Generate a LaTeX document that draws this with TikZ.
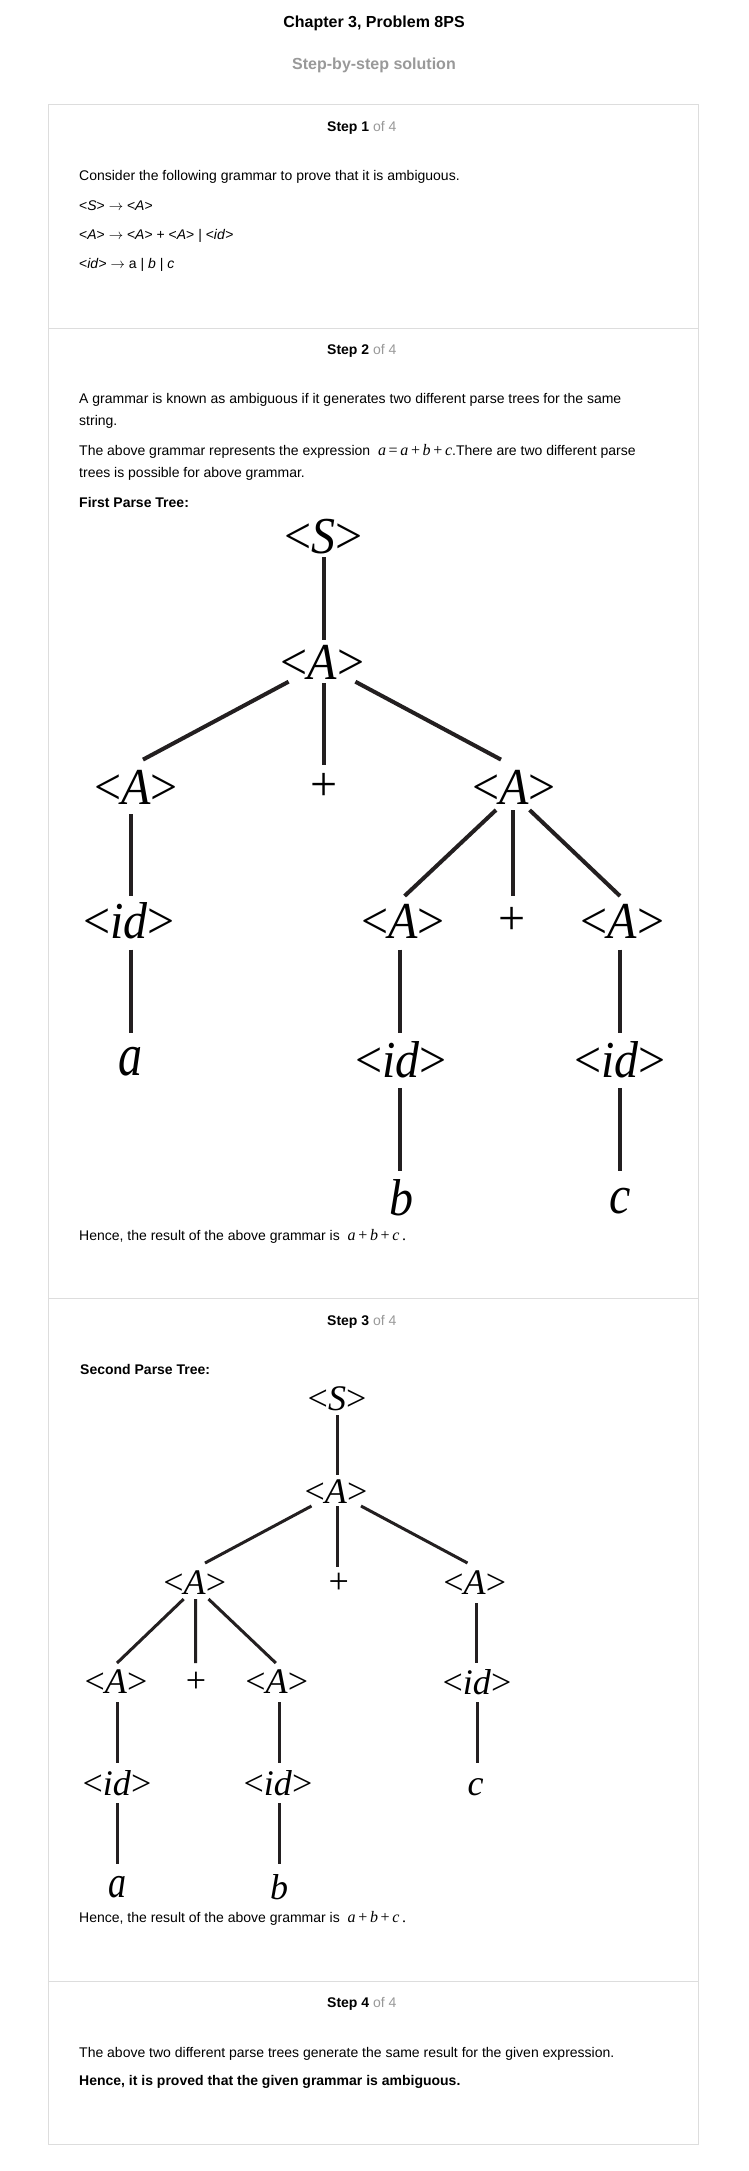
\documentclass[tikz,border=0pt]{standalone}
\usepackage{fontspec}
\setmainfont{Liberation Sans}
\newfontfamily\tms{Liberation Serif}
\usetikzlibrary{calc}
\definecolor{edge}{HTML}{231F20}
\definecolor{frame}{HTML}{DDDDDD}
\definecolor{greytxt}{HTML}{999999}
\newcommand{\fs}[1]{\fontsize{#1}{#1}\selectfont}
\newcommand{\mth}[1]{{\tms\fs{16}#1}}
\newcommand{\tallA}[1]{\scalebox{1}[1.08]{#1}}
\newcommand{\arr}{ $\rightarrow$ }
\tikzset{
  treeA/.style={font=\tms\fs{48}, inner sep=0pt},
  treeB/.style={font=\tms\fs{36}, inner sep=0pt},
  edgeA/.style={line width=4pt, color=edge},
  edgeB/.style={line width=3pt, color=edge},
  body/.style={anchor=base west, font=\fs{14}, inner sep=0pt},
  boldbody/.style={anchor=base west, font=\bfseries\fs{14}, inner sep=0pt},
  stephead/.style={anchor=base west, font=\fs{14}, inner sep=0pt},
  framebox/.style={draw=frame, line width=1pt},
}
\begin{document}
\begin{tikzpicture}[x=1pt,y=-1pt]
\path[fill=white] (0,0) rectangle (748,2171);
\useasboundingbox (0,0) rectangle (748,2171);

% header
\node[anchor=base, font=\bfseries\fs{16}, inner sep=0pt] (title) at (374,27) {Chapter 3, Problem 8PS};
\node[anchor=base, font=\bfseries\fs{16}, text=greytxt, inner sep=0pt] (sub) at (374,69) {Step-by-step solution};

% frame and separators
\draw[framebox] (48.7,104) rectangle (698.5,2144);
\draw[framebox] (48.7,328) -- (698.5,328);
\draw[framebox] (48.7,1298) -- (698.5,1298);
\draw[framebox] (48.7,1981) -- (698.5,1981);

% step 1
\node[stephead] (s1) at (327,131) {\textbf{Step 1} \textcolor{greytxt}{of 4}};
\node[body] (t11) at (79,180) {Consider the following grammar to prove that it is ambiguous.};
\node[body] (t12) at (79,210) {<\textit{S}>\arr<\textit{A}>};
\node[body] (t13) at (79,239) {<\textit{A}>\arr<\textit{A}> + <\textit{A}> | <\textit{id}>};
\node[body] (t14) at (79,268) {<\textit{id}>\arr a | \textit{b} | \textit{c}};

% step 2
\node[stephead] (s2) at (327,354) {\textbf{Step 2} \textcolor{greytxt}{of 4}};
\node[body] (t21) at (79,403) {A grammar is known as ambiguous if it generates two different parse trees for the same};
\node[body] (t22) at (79,425) {string.};
\node[body] (t23) at (79,455) {The above grammar represents the expression \ \mth{\textit{a}\,=\,\textit{a}\,+\,\textit{b}\,+\,\textit{c}}.There are two different parse};
\node[body] (t24) at (79,477) {trees is possible for above grammar.};
\node[boldbody] (t25) at (79,507) {First Parse Tree:};

% first parse tree
\node[treeA] (S)  at (323.5,537) {\tallA{<\textit{S}>}};
\node[treeA] (A0) at (322.5,662) {\tallA{<\textit{A}>}};
\node[treeA] (A1) at (136,787) {\tallA{<\textit{A}>}};
\node[treeA] (P1) at (324.4,787) {+};
\node[treeA] (A2) at (514,787) {\tallA{<\textit{A}>}};
\node[treeA] (I1) at (129,921) {\tallA{<\textit{id}>}};
\node[treeA] (A3) at (403,921) {\tallA{<\textit{A}>}};
\node[treeA] (P2) at (512,921) {+};
\node[treeA] (A4) at (622.6,921) {\tallA{<\textit{A}>}};
\node[treeA] (La) at (130,1062) {\scalebox{1}[1.25]{\textit{a}}};
\node[treeA] (I2) at (401,1060) {\tallA{<\textit{id}>}};
\node[treeA] (I3) at (620,1060) {\tallA{<\textit{id}>}};
\node[treeA] (Lb) at (401,1198) {\tallA{\textit{b}}};
\node[treeA] (Lc) at (620,1201) {\scalebox{1}[1.12]{\textit{c}}};

\draw[edgeA] ($(S)+(0,20)$) -- ($(A0)+(1,-22)$);
\draw[edgeA] ($(A0)+(-33.9,19.7)$) -- ($(A1)+(7,-27.4)$);
\draw[edgeA] ($(A0)+(1,21)$) -- ($(P1)+(-0.9,-22.4)$);
\draw[edgeA] ($(A0)+(32.9,19.7)$) -- ($(A2)+(-13,-27.4)$);
\draw[edgeA] ($(A1)+(-5,27)$) -- ($(I1)+(2,-25)$);
\draw[edgeA] ($(I1)+(2,28.6)$) -- ($(La)+(1,-29.1)$);
\draw[edgeA] ($(A2)+(-18,23)$) -- ($(A3)+(1.6,-25)$);
\draw[edgeA] ($(A2)+(-1,23)$) -- ($(P2)+(1,-25)$);
\draw[edgeA] ($(A2)+(15.6,23)$) -- ($(A4)+(-2.6,-25)$);
\draw[edgeA] ($(A3)+(-3,28.6)$) -- ($(I2)+(-1,-27.1)$);
\draw[edgeA] ($(A4)+(-2.6,28.6)$) -- ($(I3)+(0,-27.1)$);
\draw[edgeA] ($(I2)+(-1,28)$) -- ($(Lb)+(-1,-27)$);
\draw[edgeA] ($(I3)+(0,28)$) -- ($(Lc)+(0,-30)$);

\node[body] (t26) at (79,1240) {Hence, the result of the above grammar is \ \mth{\textit{a}\,+\,\textit{b}\,+\,\textit{c}\,.}};

% step 3
\node[stephead] (s3) at (327,1325) {\textbf{Step 3} \textcolor{greytxt}{of 4}};
\node[boldbody] (t31) at (80,1374) {Second Parse Tree:};

% second parse tree
\node[treeB] (SS)  at (337,1399) {<\textit{S}>};
\node[treeB] (B0) at (336,1492) {<\textit{A}>};
\node[treeB] (B1) at (194.7,1583) {<\textit{A}>};
\node[treeB] (Q1) at (338.7,1583) {+};
\node[treeB] (B2) at (474.7,1583) {<\textit{A}>};
\node[treeB] (B3) at (116,1682) {<\textit{A}>};
\node[treeB] (Q2) at (196,1682) {+};
\node[treeB] (B4) at (276.7,1682) {<\textit{A}>};
\node[treeB] (J3) at (477,1682) {<\textit{id}>};
\node[treeB] (J1) at (117,1783) {<\textit{id}>};
\node[treeB] (J2) at (278,1783) {<\textit{id}>};
\node[treeB] (Mc) at (475.7,1787) {\textit{c}};
\node[treeB] (Ma) at (117,1887) {\scalebox{1}[1.25]{\textit{a}}};
\node[treeB] (Mb) at (279,1887) {\textit{b}};

\draw[edgeB] ($(SS)+(0,16)$) -- ($(B0)+(1,-17)$);
\draw[edgeB] ($(B0)+(-24.5,14)$) -- ($(B1)+(10.3,-20)$);
\draw[edgeB] ($(B0)+(1,14)$) -- ($(Q1)+(-1.7,-16)$);
\draw[edgeB] ($(B0)+(25,14)$) -- ($(B2)+(-7.2,-20)$);
\draw[edgeB] ($(B1)+(-11,16)$) -- ($(B3)+(1,-19)$);
\draw[edgeB] ($(B1)+(0.9,16)$) -- ($(Q2)+(-0.4,-19)$);
\draw[edgeB] ($(B1)+(13.8,16)$) -- ($(B4)+(-0.9,-19)$);
\draw[edgeB] ($(B2)+(1.3,20)$) -- ($(J3)+(-1,-19)$);
\draw[edgeB] ($(B3)+(1,20)$) -- ($(J1)+(0,-20)$);
\draw[edgeB] ($(B4)+(2.3,20)$) -- ($(J2)+(1,-20)$);
\draw[edgeB] ($(J3)+(0,20)$) -- ($(Mc)+(1.3,-24)$);
\draw[edgeB] ($(J1)+(0,20)$) -- ($(Ma)+(0,-23)$);
\draw[edgeB] ($(J2)+(1,20)$) -- ($(Mb)+(0,-23)$);

\node[body] (t32) at (79,1922) {Hence, the result of the above grammar is \ \mth{\textit{a}\,+\,\textit{b}\,+\,\textit{c}\,.}};

% step 4
\node[stephead] (s4) at (327,2007) {\textbf{Step 4} \textcolor{greytxt}{of 4}};
\node[body] (t41) at (79,2057) {The above two different parse trees generate the same result for the given expression.};
\node[boldbody] (t42) at (79,2085) {Hence, it is proved that the given grammar is ambiguous.};
\end{tikzpicture}
\end{document}
